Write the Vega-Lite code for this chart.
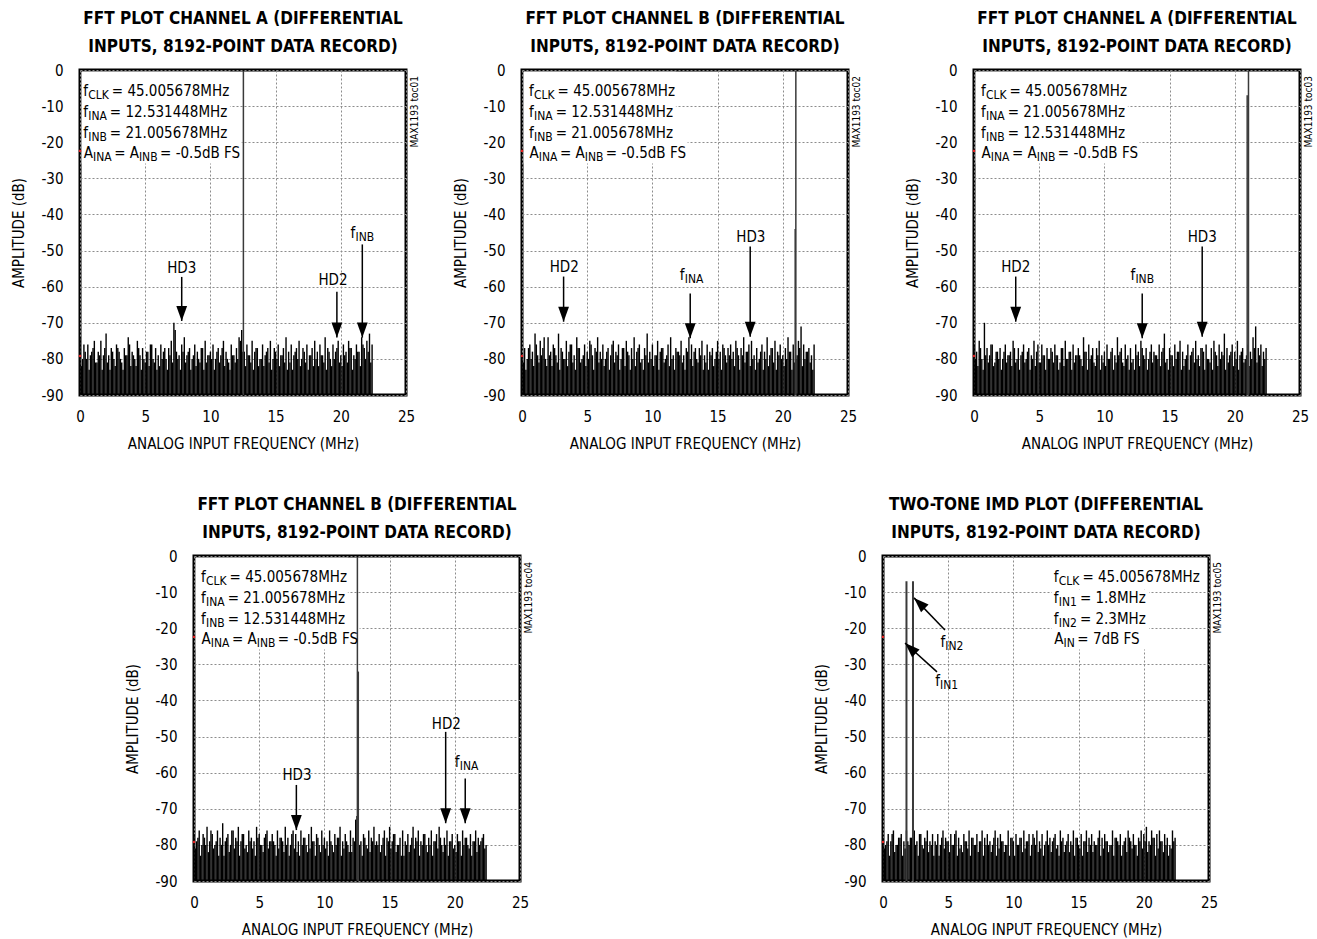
{
  "$schema": "https://vega.github.io/schema/vega-lite/v6.json",
  "background": "white",
  "padding": {"left": 10, "top": 8, "right": 0, "bottom": 0},
  "datasets": {
    "noise": [
      {"f":0,"a1":-74,"b1":-79,"a2":-76,"b2":-77,"t":-78},
      {"f":0.2,"a1":-80,"b1":-77,"a2":-78,"b2":-79,"t":-80},
      {"f":0.4,"a1":-78,"b1":-80,"a2":-75,"b2":-76,"t":-77},
      {"f":0.6,"a1":-76,"b1":-76,"a2":-80,"b2":-80,"t":-79},
      {"f":0.8,"a1":-79,"b1":-78,"a2":-70,"b2":-78,"t":-76},
      {"f":1,"a1":-77,"b1":-73,"a2":-77,"b2":-75,"t":-80},
      {"f":1.2,"a1":-81,"b1":-79,"a2":-79,"b2":-79,"t":-78},
      {"f":1.4,"a1":-78,"b1":-75,"a2":-76,"b2":-77,"t":-77},
      {"f":1.6,"a1":-75,"b1":-77,"a2":-81,"b2":-80,"t":-79},
      {"f":1.8,"a1":-79,"b1":-80,"a2":-78,"b2":-76,"t":-76},
      {"f":2,"a1":-73,"b1":-74,"a2":-77,"b2":-78,"t":-80},
      {"f":2.2,"a1":-79,"b1":-78,"a2":-80,"b2":-74,"t":-78},
      {"f":2.4,"a1":-77,"b1":-76,"a2":-76,"b2":-79,"t":-76},
      {"f":2.6,"a1":-80,"b1":-79,"a2":-79,"b2":-77,"t":-79},
      {"f":2.8,"a1":-76,"b1":-73,"a2":-78,"b2":-80,"t":-77},
      {"f":3,"a1":-78,"b1":-77,"a2":-75,"b2":-76,"t":-80},
      {"f":3.2,"a1":-81,"b1":-80,"a2":-81,"b2":-78,"t":-78},
      {"f":3.4,"a1":-77,"b1":-75,"a2":-77,"b2":-75,"t":-76},
      {"f":3.6,"a1":-79,"b1":-78,"a2":-79,"b2":-79,"t":-79},
      {"f":3.8,"a1":-76,"b1":-76,"a2":-76,"b2":-77,"t":-77},
      {"f":4,"a1":-78,"b1":-79,"a2":-80,"b2":-80,"t":-79},
      {"f":4.2,"a1":-80,"b1":-74,"a2":-77,"b2":-76,"t":-77},
      {"f":4.4,"a1":-75,"b1":-77,"a2":-79,"b2":-78,"t":-80},
      {"f":4.6,"a1":-79,"b1":-80,"a2":-75,"b2":-79,"t":-76},
      {"f":4.8,"a1":-77,"b1":-76,"a2":-78,"b2":-75,"t":-78},
      {"f":5,"a1":-81,"b1":-78,"a2":-81,"b2":-77,"t":-79},
      {"f":5.2,"a1":-78,"b1":-75,"a2":-76,"b2":-80,"t":-77},
      {"f":5.4,"a1":-76,"b1":-79,"a2":-79,"b2":-78,"t":-80},
      {"f":5.6,"a1":-80,"b1":-77,"a2":-77,"b2":-76,"t":-76},
      {"f":5.8,"a1":-77,"b1":-74,"a2":-80,"b2":-79,"t":-78},
      {"f":6,"a1":-79,"b1":-78,"a2":-78,"b2":-77,"t":-80},
      {"f":6.2,"a1":-76,"b1":-76,"a2":-76,"b2":-80,"t":-77},
      {"f":6.4,"a1":-78,"b1":-80,"a2":-79,"b2":-76,"t":-79},
      {"f":6.6,"a1":-80,"b1":-77,"a2":-81,"b2":-78,"t":-76},
      {"f":6.8,"a1":-77,"b1":-79,"a2":-77,"b2":-79,"t":-78},
      {"f":7,"a1":-75,"b1":-75,"a2":-75,"b2":-75,"t":-80},
      {"f":7.2,"a1":-70,"b1":-78,"a2":-80,"b2":-78,"t":-77},
      {"f":7.4,"a1":-78,"b1":-76,"a2":-78,"b2":-80,"t":-79},
      {"f":7.6,"a1":-79,"b1":-80,"a2":-76,"b2":-76,"t":-76},
      {"f":7.8,"a1":-76,"b1":-77,"a2":-79,"b2":-77,"t":-78},
      {"f":8,"a1":-74,"b1":-75,"a2":-77,"b2":-79,"t":-77},
      {"f":8.2,"a1":-79,"b1":-79,"a2":-80,"b2":-76,"t":-79},
      {"f":8.4,"a1":-77,"b1":-77,"a2":-74,"b2":-78,"t":-80},
      {"f":8.6,"a1":-80,"b1":-74,"a2":-78,"b2":-80,"t":-76},
      {"f":8.8,"a1":-76,"b1":-78,"a2":-76,"b2":-77,"t":-78},
      {"f":9,"a1":-78,"b1":-76,"a2":-79,"b2":-75,"t":-77},
      {"f":9.2,"a1":-81,"b1":-80,"a2":-81,"b2":-79,"t":-79},
      {"f":9.4,"a1":-77,"b1":-77,"a2":-77,"b2":-77,"t":-80},
      {"f":9.6,"a1":-75,"b1":-73,"a2":-75,"b2":-80,"t":-76},
      {"f":9.8,"a1":-79,"b1":-78,"a2":-79,"b2":-76,"t":-78},
      {"f":10,"a1":-78,"b1":-76,"a2":-78,"b2":-78,"t":-79},
      {"f":10.2,"a1":-76,"b1":-79,"a2":-76,"b2":-79,"t":-77},
      {"f":10.4,"a1":-80,"b1":-75,"a2":-80,"b2":-76,"t":-80},
      {"f":10.6,"a1":-77,"b1":-78,"a2":-77,"b2":-80,"t":-78},
      {"f":10.8,"a1":-79,"b1":-77,"a2":-79,"b2":-77,"t":-76},
      {"f":11,"a1":-75,"b1":-80,"a2":-74,"b2":-78,"t":-79},
      {"f":11.2,"a1":-78,"b1":-76,"a2":-78,"b2":-75,"t":-77},
      {"f":11.4,"a1":-81,"b1":-74,"a2":-81,"b2":-79,"t":-80},
      {"f":11.6,"a1":-76,"b1":-79,"a2":-76,"b2":-77,"t":-78},
      {"f":11.8,"a1":-79,"b1":-77,"a2":-79,"b2":-80,"t":-76},
      {"f":12,"a1":-77,"b1":-78,"a2":-77,"b2":-76,"t":-79},
      {"f":12.2,"a1":-74,"b1":-75,"a2":-80,"b2":-78,"t":-77},
      {"f":12.4,"a1":-72,"b1":-79,"a2":-76,"b2":-73,"t":-80},
      {"f":12.6,"a1":-78,"b1":-77,"a2":-78,"b2":-71,"t":-76},
      {"f":12.8,"a1":-76,"b1":-74,"a2":-75,"b2":-79,"t":-78},
      {"f":13,"a1":-79,"b1":-76,"a2":-79,"b2":-77,"t":-79},
      {"f":13.2,"a1":-75,"b1":-78,"a2":-77,"b2":-80,"t":-77},
      {"f":13.4,"a1":-78,"b1":-80,"a2":-80,"b2":-76,"t":-80},
      {"f":13.6,"a1":-77,"b1":-77,"a2":-76,"b2":-78,"t":-76},
      {"f":13.8,"a1":-80,"b1":-75,"a2":-78,"b2":-75,"t":-78},
      {"f":14,"a1":-76,"b1":-79,"a2":-79,"b2":-79,"t":-80},
      {"f":14.2,"a1":-79,"b1":-76,"a2":-76,"b2":-77,"t":-77},
      {"f":14.4,"a1":-77,"b1":-78,"a2":-78,"b2":-80,"t":-79},
      {"f":14.6,"a1":-75,"b1":-77,"a2":-73,"b2":-76,"t":-76},
      {"f":14.8,"a1":-80,"b1":-80,"a2":-80,"b2":-78,"t":-78},
      {"f":15,"a1":-78,"b1":-75,"a2":-77,"b2":-75,"t":-80},
      {"f":15.2,"a1":-76,"b1":-78,"a2":-79,"b2":-79,"t":-77},
      {"f":15.4,"a1":-79,"b1":-76,"a2":-76,"b2":-77,"t":-79},
      {"f":15.6,"a1":-77,"b1":-79,"a2":-78,"b2":-80,"t":-76},
      {"f":15.8,"a1":-74,"b1":-77,"a2":-75,"b2":-78,"t":-78},
      {"f":16,"a1":-78,"b1":-76,"a2":-78,"b2":-76,"t":-77},
      {"f":16.2,"a1":-76,"b1":-78,"a2":-80,"b2":-79,"t":-79},
      {"f":16.4,"a1":-79,"b1":-75,"a2":-76,"b2":-77,"t":-80},
      {"f":16.6,"a1":-77,"b1":-79,"a2":-79,"b2":-80,"t":-76},
      {"f":16.8,"a1":-75,"b1":-77,"a2":-77,"b2":-75,"t":-78},
      {"f":17,"a1":-80,"b1":-74,"a2":-75,"b2":-78,"t":-77},
      {"f":17.2,"a1":-78,"b1":-78,"a2":-79,"b2":-76,"t":-79},
      {"f":17.4,"a1":-76,"b1":-76,"a2":-77,"b2":-79,"t":-80},
      {"f":17.6,"a1":-79,"b1":-75,"a2":-78,"b2":-77,"t":-76},
      {"f":17.8,"a1":-77,"b1":-79,"a2":-76,"b2":-80,"t":-78},
      {"f":18,"a1":-75,"b1":-77,"a2":-80,"b2":-78,"t":-79},
      {"f":18.2,"a1":-78,"b1":-80,"a2":-77,"b2":-76,"t":-77},
      {"f":18.4,"a1":-76,"b1":-76,"a2":-75,"b2":-79,"t":-80},
      {"f":18.6,"a1":-79,"b1":-78,"a2":-79,"b2":-77,"t":-78},
      {"f":18.8,"a1":-74,"b1":-74,"a2":-76,"b2":-75,"t":-76},
      {"f":19,"a1":-77,"b1":-79,"a2":-78,"b2":-80,"t":-79},
      {"f":19.2,"a1":-80,"b1":-77,"a2":-73,"b2":-78,"t":-77},
      {"f":19.4,"a1":-76,"b1":-75,"a2":-77,"b2":-76,"t":-80},
      {"f":19.6,"a1":-78,"b1":-78,"a2":-79,"b2":-79,"t":-78},
      {"f":19.8,"a1":-75,"b1":-76,"a2":-76,"b2":-77,"t":-76},
      {"f":20,"a1":-79,"b1":-79,"a2":-78,"b2":-80,"t":-77},
      {"f":20.2,"a1":-76,"b1":-77,"a2":-75,"b2":-77,"t":-75},
      {"f":20.4,"a1":-78,"b1":-74,"a2":-79,"b2":-79,"t":-79},
      {"f":20.6,"a1":-75,"b1":-78,"a2":-77,"b2":-76,"t":-76},
      {"f":20.8,"a1":-77,"b1":-76,"a2":-80,"b2":-78,"t":-78},
      {"f":21,"a1":-79,"b1":-80,"a2":-76,"b2":-80,"t":-77},
      {"f":21.2,"a1":-76,"b1":-75,"a2":-78,"b2":-77,"t":-76},
      {"f":21.4,"a1":-78,"b1":-71,"a2":-74,"b2":-79,"t":-79},
      {"f":21.6,"a1":-74,"b1":-76,"a2":-71,"b2":-76,"t":-77},
      {"f":21.8,"a1":-77,"b1":-78,"a2":-77,"b2":-78,"t":-78},
      {"f":22,"a1":-75,"b1":-77,"a2":-76,"b2":-79,"t":-80},
      {"f":22.2,"a1":-73,"b1":-79,"a2":-78,"b2":-77,"t":-76},
      {"f":22.4,"a1":-76,"b1":-76,"a2":-77,"b2":-80,"t":-78},
      {"f":0.1,"a1":-82,"b1":-81,"a2":-80,"b2":-81,"t":-81},
      {"f":0.3,"a1":-76,"b1":-83,"a2":-82,"b2":-78,"t":-79},
      {"f":0.5,"a1":-80,"b1":-77,"a2":-77,"b2":-83,"t":-83},
      {"f":0.7,"a1":-83,"b1":-80,"a2":-83,"b2":-77,"t":-77},
      {"f":0.9,"a1":-78,"b1":-82,"a2":-79,"b2":-80,"t":-82},
      {"f":1.1,"a1":-75,"b1":-76,"a2":-81,"b2":-82,"t":-80},
      {"f":1.3,"a1":-81,"b1":-81,"a2":-76,"b2":-76,"t":-78},
      {"f":1.5,"a1":-79,"b1":-79,"a2":-82,"b2":-81,"t":-83},
      {"f":1.7,"a1":-83,"b1":-74,"a2":-78,"b2":-79,"t":-81},
      {"f":1.9,"a1":-77,"b1":-82,"a2":-80,"b2":-83,"t":-79},
      {"f":2.1,"a1":-81,"b1":-79,"a2":-83,"b2":-80,"t":-78},
      {"f":2.3,"a1":-83,"b1":-82,"a2":-78,"b2":-83,"t":-82},
      {"f":2.5,"a1":-78,"b1":-77,"a2":-81,"b2":-78,"t":-80},
      {"f":2.7,"a1":-82,"b1":-81,"a2":-79,"b2":-82,"t":-83},
      {"f":2.9,"a1":-77,"b1":-83,"a2":-82,"b2":-76,"t":-77},
      {"f":3.1,"a1":-80,"b1":-78,"a2":-77,"b2":-81,"t":-81},
      {"f":3.3,"a1":-83,"b1":-80,"a2":-80,"b2":-79,"t":-79},
      {"f":3.5,"a1":-79,"b1":-82,"a2":-83,"b2":-83,"t":-82},
      {"f":3.7,"a1":-74,"b1":-76,"a2":-78,"b2":-77,"t":-80},
      {"f":3.9,"a1":-82,"b1":-81,"a2":-81,"b2":-81,"t":-83},
      {"f":4.1,"a1":-79,"b1":-83,"a2":-78,"b2":-82,"t":-80},
      {"f":4.3,"a1":-82,"b1":-77,"a2":-83,"b2":-79,"t":-83},
      {"f":4.5,"a1":-77,"b1":-81,"a2":-80,"b2":-81,"t":-78},
      {"f":4.7,"a1":-83,"b1":-79,"a2":-82,"b2":-83,"t":-81},
      {"f":4.9,"a1":-80,"b1":-82,"a2":-76,"b2":-78,"t":-79},
      {"f":5.1,"a1":-78,"b1":-80,"a2":-81,"b2":-80,"t":-82},
      {"f":5.3,"a1":-82,"b1":-76,"a2":-79,"b2":-82,"t":-80},
      {"f":5.5,"a1":-76,"b1":-83,"a2":-83,"b2":-77,"t":-77},
      {"f":5.7,"a1":-81,"b1":-78,"a2":-80,"b2":-81,"t":-83},
      {"f":5.9,"a1":-83,"b1":-81,"a2":-77,"b2":-79,"t":-81},
      {"f":6.1,"a1":-82,"b1":-80,"a2":-81,"b2":-79,"t":-82},
      {"f":6.3,"a1":-80,"b1":-82,"a2":-79,"b2":-83,"t":-79},
      {"f":6.5,"a1":-77,"b1":-78,"a2":-83,"b2":-81,"t":-81},
      {"f":6.7,"a1":-83,"b1":-83,"a2":-77,"b2":-78,"t":-83},
      {"f":6.9,"a1":-79,"b1":-76,"a2":-82,"b2":-82,"t":-78},
      {"f":7.1,"a1":-81,"b1":-81,"a2":-80,"b2":-80,"t":-80},
      {"f":7.3,"a1":-72,"b1":-79,"a2":-78,"b2":-83,"t":-82},
      {"f":7.5,"a1":-80,"b1":-83,"a2":-83,"b2":-77,"t":-79},
      {"f":7.7,"a1":-83,"b1":-77,"a2":-81,"b2":-81,"t":-83},
      {"f":7.9,"a1":-78,"b1":-82,"a2":-79,"b2":-82,"t":-80},
      {"f":8.1,"a1":-81,"b1":-78,"a2":-79,"b2":-83,"t":-80},
      {"f":8.3,"a1":-78,"b1":-83,"a2":-82,"b2":-80,"t":-82},
      {"f":8.5,"a1":-83,"b1":-80,"a2":-78,"b2":-78,"t":-78},
      {"f":8.7,"a1":-79,"b1":-82,"a2":-83,"b2":-82,"t":-83},
      {"f":8.9,"a1":-82,"b1":-77,"a2":-80,"b2":-81,"t":-81},
      {"f":9.1,"a1":-80,"b1":-81,"a2":-77,"b2":-79,"t":-79},
      {"f":9.3,"a1":-77,"b1":-83,"a2":-82,"b2":-83,"t":-82},
      {"f":9.5,"a1":-83,"b1":-79,"a2":-79,"b2":-78,"t":-80},
      {"f":9.7,"a1":-81,"b1":-81,"a2":-83,"b2":-82,"t":-83},
      {"f":9.9,"a1":-79,"b1":-80,"a2":-81,"b2":-80,"t":-78},
      {"f":10.1,"a1":-80,"b1":-82,"a2":-82,"b2":-81,"t":-83},
      {"f":10.3,"a1":-83,"b1":-79,"a2":-80,"b2":-83,"t":-80},
      {"f":10.5,"a1":-78,"b1":-83,"a2":-78,"b2":-79,"t":-78},
      {"f":10.7,"a1":-81,"b1":-77,"a2":-83,"b2":-82,"t":-82},
      {"f":10.9,"a1":-77,"b1":-81,"a2":-81,"b2":-80,"t":-81},
      {"f":11.1,"a1":-82,"b1":-79,"a2":-79,"b2":-78,"t":-79},
      {"f":11.3,"a1":-80,"b1":-82,"a2":-77,"b2":-83,"t":-83},
      {"f":11.5,"a1":-83,"b1":-80,"a2":-82,"b2":-81,"t":-77},
      {"f":11.7,"a1":-79,"b1":-83,"a2":-80,"b2":-79,"t":-80},
      {"f":11.9,"a1":-81,"b1":-78,"a2":-83,"b2":-82,"t":-82},
      {"f":12.1,"a1":-80,"b1":-79,"a2":-81,"b2":-82,"t":-81},
      {"f":12.3,"a1":-75,"b1":-81,"a2":-83,"b2":-79,"t":-83},
      {"f":12.5,"a1":-78,"b1":-83,"a2":-79,"b2":-72,"t":-79},
      {"f":12.7,"a1":-82,"b1":-78,"a2":-82,"b2":-80,"t":-80},
      {"f":12.9,"a1":-79,"b1":-80,"a2":-77,"b2":-83,"t":-82},
      {"f":13.1,"a1":-81,"b1":-82,"a2":-80,"b2":-78,"t":-78},
      {"f":13.3,"a1":-83,"b1":-77,"a2":-83,"b2":-81,"t":-81},
      {"f":13.5,"a1":-77,"b1":-81,"a2":-78,"b2":-82,"t":-83},
      {"f":13.7,"a1":-82,"b1":-79,"a2":-81,"b2":-79,"t":-79},
      {"f":13.9,"a1":-80,"b1":-83,"a2":-79,"b2":-80,"t":-82},
      {"f":14.1,"a1":-82,"b1":-81,"a2":-80,"b2":-80,"t":-79},
      {"f":14.3,"a1":-78,"b1":-83,"a2":-82,"b2":-82,"t":-82},
      {"f":14.5,"a1":-81,"b1":-79,"a2":-77,"b2":-78,"t":-80},
      {"f":14.7,"a1":-83,"b1":-82,"a2":-81,"b2":-83,"t":-83},
      {"f":14.9,"a1":-77,"b1":-78,"a2":-83,"b2":-79,"t":-78},
      {"f":15.1,"a1":-80,"b1":-80,"a2":-79,"b2":-81,"t":-81},
      {"f":15.3,"a1":-82,"b1":-83,"a2":-82,"b2":-77,"t":-83},
      {"f":15.5,"a1":-79,"b1":-77,"a2":-80,"b2":-82,"t":-79},
      {"f":15.7,"a1":-81,"b1":-81,"a2":-78,"b2":-80,"t":-82},
      {"f":15.9,"a1":-83,"b1":-79,"a2":-83,"b2":-83,"t":-80},
      {"f":16.1,"a1":-81,"b1":-80,"a2":-82,"b2":-83,"t":-82},
      {"f":16.3,"a1":-83,"b1":-82,"a2":-79,"b2":-80,"t":-80},
      {"f":16.5,"a1":-78,"b1":-77,"a2":-83,"b2":-82,"t":-78},
      {"f":16.7,"a1":-80,"b1":-83,"a2":-78,"b2":-78,"t":-83},
      {"f":16.9,"a1":-82,"b1":-79,"a2":-81,"b2":-81,"t":-81},
      {"f":17.1,"a1":-77,"b1":-81,"a2":-80,"b2":-79,"t":-79},
      {"f":17.3,"a1":-81,"b1":-78,"a2":-82,"b2":-83,"t":-82},
      {"f":17.5,"a1":-83,"b1":-82,"a2":-77,"b2":-80,"t":-80},
      {"f":17.7,"a1":-79,"b1":-80,"a2":-83,"b2":-77,"t":-83},
      {"f":17.9,"a1":-82,"b1":-83,"a2":-80,"b2":-82,"t":-78},
      {"f":18.1,"a1":-80,"b1":-81,"a2":-81,"b2":-80,"t":-80},
      {"f":18.3,"a1":-82,"b1":-78,"a2":-83,"b2":-83,"t":-83},
      {"f":18.5,"a1":-79,"b1":-83,"a2":-78,"b2":-79,"t":-79},
      {"f":18.7,"a1":-81,"b1":-80,"a2":-82,"b2":-81,"t":-82},
      {"f":18.9,"a1":-83,"b1":-82,"a2":-80,"b2":-78,"t":-78},
      {"f":19.1,"a1":-78,"b1":-77,"a2":-79,"b2":-82,"t":-81},
      {"f":19.3,"a1":-82,"b1":-81,"a2":-83,"b2":-80,"t":-80},
      {"f":19.5,"a1":-80,"b1":-83,"a2":-81,"b2":-83,"t":-83},
      {"f":19.7,"a1":-77,"b1":-79,"a2":-78,"b2":-79,"t":-79},
      {"f":19.9,"a1":-81,"b1":-80,"a2":-82,"b2":-81,"t":-81},
      {"f":20.1,"a1":-82,"b1":-82,"a2":-80,"b2":-82,"t":-79},
      {"f":20.3,"a1":-79,"b1":-80,"a2":-83,"b2":-79,"t":-82},
      {"f":20.5,"a1":-81,"b1":-78,"a2":-78,"b2":-83,"t":-80},
      {"f":20.7,"a1":-77,"b1":-83,"a2":-81,"b2":-80,"t":-78},
      {"f":20.9,"a1":-83,"b1":-81,"a2":-79,"b2":-78,"t":-83},
      {"f":21.1,"a1":-80,"b1":-79,"a2":-82,"b2":-81,"t":-81},
      {"f":21.3,"a1":-78,"b1":-77,"a2":-80,"b2":-83,"t":-79},
      {"f":21.5,"a1":-82,"b1":-82,"a2":-77,"b2":-79,"t":-82},
      {"f":21.7,"a1":-76,"b1":-80,"a2":-81,"b2":-82,"t":-80},
      {"f":21.9,"a1":-80,"b1":-78,"a2":-79,"b2":-80,"t":-83},
      {"f":22.1,"a1":-78,"b1":-81,"a2":-82,"b2":-78,"t":-81},
      {"f":22.3,"a1":-81,"b1":-83,"a2":-80,"b2":-81,"t":-79}
    ],
    "spikes": [
      {"p":"A1","f":12.53,"v":-0.3},
      {"p":"B1","f":21.0,"v":-0.3},
      {"p":"B1","f":20.95,"v":-44},
      {"p":"A2","f":21.05,"v":-0.3},
      {"p":"A2","f":20.95,"v":-7},
      {"p":"B2","f":12.53,"v":-0.3},
      {"p":"B2","f":12.6,"v":-32},
      {"p":"T","f":1.8,"v":-7},
      {"p":"T","f":2.3,"v":-7}
    ],
    "boxes": [
      {"p":"A1","x":0.13,"x2":11.5,"y":-0.5,"y2":-15.5},
      {"p":"A1","x":0.13,"x2":12.4,"y":-15.5,"y2":-25.9},
      {"p":"B1","x":0.13,"x2":11.8,"y":-0.5,"y2":-15.5},
      {"p":"B1","x":0.13,"x2":12.7,"y":-15.5,"y2":-25.9},
      {"p":"A2","x":0.13,"x2":11.8,"y":-0.5,"y2":-15.5},
      {"p":"A2","x":0.13,"x2":12.7,"y":-15.5,"y2":-25.9},
      {"p":"B2","x":0.13,"x2":11.8,"y":-0.5,"y2":-15.5},
      {"p":"B2","x":0.13,"x2":12.7,"y":-15.5,"y2":-25.9},
      {"p":"T","x":12.95,"x2":24.75,"y":-0.5,"y2":-9.3},
      {"p":"T","x":12.95,"x2":20.4,"y":-9.3,"y2":-25.9}
    ],
    "texts": [
      {"p":"A1","x":0.25,"y":-7.3,"t":"f"},
      {"p":"A1","x":2.44,"y":-7.3,"t":"= 45.005678MHz"},
      {"p":"A1","x":0.25,"y":-13,"t":"f"},
      {"p":"A1","x":2.29,"y":-13,"t":"= 12.531448MHz"},
      {"p":"A1","x":0.25,"y":-18.7,"t":"f"},
      {"p":"A1","x":2.29,"y":-18.7,"t":"= 21.005678MHz"},
      {"p":"A1","x":0.29,"y":-24.4,"t":"A"},
      {"p":"A1","x":2.62,"y":-24.4,"t":"= A"},
      {"p":"A1","x":6.14,"y":-24.4,"t":"= -0.5dB FS"},
      {"p":"A1","x":20.75,"y":-46.6,"t":"f"},
      {"p":"B1","x":0.54,"y":-7.3,"t":"f"},
      {"p":"B1","x":2.73,"y":-7.3,"t":"= 45.005678MHz"},
      {"p":"B1","x":0.54,"y":-13,"t":"f"},
      {"p":"B1","x":2.58,"y":-13,"t":"= 12.531448MHz"},
      {"p":"B1","x":0.54,"y":-18.7,"t":"f"},
      {"p":"B1","x":2.58,"y":-18.7,"t":"= 21.005678MHz"},
      {"p":"B1","x":0.58,"y":-24.4,"t":"A"},
      {"p":"B1","x":2.91,"y":-24.4,"t":"= A"},
      {"p":"B1","x":6.43,"y":-24.4,"t":"= -0.5dB FS"},
      {"p":"B1","x":12.1,"y":-58.2,"t":"f"},
      {"p":"A2","x":0.54,"y":-7.3,"t":"f"},
      {"p":"A2","x":2.73,"y":-7.3,"t":"= 45.005678MHz"},
      {"p":"A2","x":0.54,"y":-13,"t":"f"},
      {"p":"A2","x":2.58,"y":-13,"t":"= 21.005678MHz"},
      {"p":"A2","x":0.54,"y":-18.7,"t":"f"},
      {"p":"A2","x":2.58,"y":-18.7,"t":"= 12.531448MHz"},
      {"p":"A2","x":0.58,"y":-24.4,"t":"A"},
      {"p":"A2","x":2.91,"y":-24.4,"t":"= A"},
      {"p":"A2","x":6.43,"y":-24.4,"t":"= -0.5dB FS"},
      {"p":"A2","x":12.0,"y":-58.2,"t":"f"},
      {"p":"B2","x":0.54,"y":-7.3,"t":"f"},
      {"p":"B2","x":2.73,"y":-7.3,"t":"= 45.005678MHz"},
      {"p":"B2","x":0.54,"y":-13,"t":"f"},
      {"p":"B2","x":2.58,"y":-13,"t":"= 21.005678MHz"},
      {"p":"B2","x":0.54,"y":-18.7,"t":"f"},
      {"p":"B2","x":2.58,"y":-18.7,"t":"= 12.531448MHz"},
      {"p":"B2","x":0.58,"y":-24.4,"t":"A"},
      {"p":"B2","x":2.91,"y":-24.4,"t":"= A"},
      {"p":"B2","x":6.43,"y":-24.4,"t":"= -0.5dB FS"},
      {"p":"B2","x":20.0,"y":-58.5,"t":"f"},
      {"p":"T","x":13.1,"y":-7.3,"t":"f"},
      {"p":"T","x":15.29,"y":-7.3,"t":"= 45.005678MHz"},
      {"p":"T","x":13.1,"y":-13,"t":"f"},
      {"p":"T","x":15.1,"y":-13,"t":"= 1.8MHz"},
      {"p":"T","x":13.1,"y":-18.7,"t":"f"},
      {"p":"T","x":15.1,"y":-18.7,"t":"= 2.3MHz"},
      {"p":"T","x":13.13,"y":-24.4,"t":"A"},
      {"p":"T","x":14.9,"y":-24.4,"t":"= 7dB FS"},
      {"p":"T","x":4.4,"y":-25.1,"t":"f"},
      {"p":"T","x":4.0,"y":-36,"t":"f"}
    ],
    "subs": [
      {"p":"A1","x":0.63,"y":-7.3,"t":"CLK"},
      {"p":"A1","x":0.63,"y":-13,"t":"INA"},
      {"p":"A1","x":0.63,"y":-18.7,"t":"INB"},
      {"p":"A1","x":1.0,"y":-24.4,"t":"INA"},
      {"p":"A1","x":4.52,"y":-24.4,"t":"INB"},
      {"p":"A1","x":21.13,"y":-46.6,"t":"INB"},
      {"p":"B1","x":0.92,"y":-7.3,"t":"CLK"},
      {"p":"B1","x":0.92,"y":-13,"t":"INA"},
      {"p":"B1","x":0.92,"y":-18.7,"t":"INB"},
      {"p":"B1","x":1.29,"y":-24.4,"t":"INA"},
      {"p":"B1","x":4.81,"y":-24.4,"t":"INB"},
      {"p":"B1","x":12.48,"y":-58.2,"t":"INA"},
      {"p":"A2","x":0.92,"y":-7.3,"t":"CLK"},
      {"p":"A2","x":0.92,"y":-13,"t":"INA"},
      {"p":"A2","x":0.92,"y":-18.7,"t":"INB"},
      {"p":"A2","x":1.29,"y":-24.4,"t":"INA"},
      {"p":"A2","x":4.81,"y":-24.4,"t":"INB"},
      {"p":"A2","x":12.38,"y":-58.2,"t":"INB"},
      {"p":"B2","x":0.92,"y":-7.3,"t":"CLK"},
      {"p":"B2","x":0.92,"y":-13,"t":"INA"},
      {"p":"B2","x":0.92,"y":-18.7,"t":"INB"},
      {"p":"B2","x":1.29,"y":-24.4,"t":"INA"},
      {"p":"B2","x":4.81,"y":-24.4,"t":"INB"},
      {"p":"B2","x":20.38,"y":-58.5,"t":"INA"},
      {"p":"T","x":13.48,"y":-7.3,"t":"CLK"},
      {"p":"T","x":13.48,"y":-13,"t":"IN1"},
      {"p":"T","x":13.48,"y":-18.7,"t":"IN2"},
      {"p":"T","x":13.84,"y":-24.4,"t":"IN"},
      {"p":"T","x":4.78,"y":-25.1,"t":"IN2"},
      {"p":"T","x":4.38,"y":-36,"t":"IN1"}
    ],
    "labels": [
      {"p":"A1","x":7.8,"y":-56.1,"t":"HD3"},
      {"p":"A1","x":19.4,"y":-59.4,"t":"HD2"},
      {"p":"B1","x":3.24,"y":-55.9,"t":"HD2"},
      {"p":"B1","x":17.55,"y":-47.6,"t":"HD3"},
      {"p":"A2","x":3.2,"y":-55.9,"t":"HD2"},
      {"p":"A2","x":17.5,"y":-47.6,"t":"HD3"},
      {"p":"B2","x":7.9,"y":-61.9,"t":"HD3"},
      {"p":"B2","x":19.35,"y":-48,"t":"HD2"}
    ],
    "arrows": [
      {"p":"A1","x":7.8,"y1":-57.3,"y2":-69.5},
      {"p":"A1","x":19.7,"y1":-61.4,"y2":-74.1},
      {"p":"A1","x":21.65,"y1":-48.3,"y2":-74.1},
      {"p":"B1","x":3.19,"y1":-57.2,"y2":-69.7},
      {"p":"B1","x":12.9,"y1":-61.9,"y2":-74.3},
      {"p":"B1","x":17.5,"y1":-48.9,"y2":-73.9},
      {"p":"A2","x":3.2,"y1":-57.2,"y2":-69.7},
      {"p":"A2","x":12.9,"y1":-61.9,"y2":-74.3},
      {"p":"A2","x":17.5,"y1":-48.9,"y2":-73.9},
      {"p":"B2","x":7.85,"y1":-63.4,"y2":-75.9},
      {"p":"B2","x":19.3,"y1":-48.7,"y2":-74},
      {"p":"B2","x":20.8,"y1":-61.6,"y2":-74}
    ],
    "darrows": [
      {"p":"T","x1":4.75,"y1":-20.5,"x2":2.38,"y2":-11.6},
      {"p":"T","x1":4.14,"y1":-32.1,"x2":1.69,"y2":-24.1}
    ],
    "marks": [
      {"y":-22.4},
      {"y":-79.2}
    ]
  },
  "vconcat": [
    {
      "hconcat": [
        {
          "width": 326, "height": 325,
          "title": {"text": ["FFT PLOT CHANNEL A (DIFFERENTIAL", "INPUTS, 8192-POINT DATA RECORD)"]},
          "layer": [
            {"data": {"name": "noise"}, "mark": {"type": "rule", "color": "black", "strokeWidth": 1.4},
             "encoding": {
               "x": {"field": "f", "type": "quantitative", "scale": {"domain": [0, 25], "nice": false}, "axis": {"values": [0, 5, 10, 15, 20, 25]}, "title": "ANALOG INPUT FREQUENCY (MHz)"},
               "y": {"field": "a1", "type": "quantitative", "scale": {"domain": [-90, 0], "nice": false}, "axis": {"values": [-90, -80, -70, -60, -50, -40, -30, -20, -10, 0], "tickCount": 12, "labelOverlap": false, "labelExpr": "datum.value == 0 ? '0' : '-' + abs(datum.value)"}, "title": "AMPLITUDE (dB)"},
               "y2": {"datum": -90}}},
            {"data": {"name": "boxes"}, "transform": [{"filter": "datum.p == 'A1'"}], "mark": {"type": "rect", "color": "white"},
             "encoding": {"x": {"field": "x", "type": "quantitative"}, "x2": {"field": "x2"}, "y": {"field": "y", "type": "quantitative"}, "y2": {"field": "y2"}}},
            {"data": {"name": "spikes"}, "transform": [{"filter": "datum.p == 'A1'"}], "mark": {"type": "rule", "color": "#3a3a3a", "strokeWidth": 1.5},
             "encoding": {"x": {"field": "f", "type": "quantitative"}, "y": {"field": "v", "type": "quantitative"}, "y2": {"datum": -90}}},
            {"data": {"name": "texts"}, "transform": [{"filter": "datum.p == 'A1'"}], "mark": {"type": "text", "align": "left", "baseline": "alphabetic", "fontSize": 15},
             "encoding": {"x": {"field": "x", "type": "quantitative"}, "y": {"field": "y", "type": "quantitative"}, "text": {"field": "t"}}},
            {"data": {"name": "subs"}, "transform": [{"filter": "datum.p == 'A1'"}], "mark": {"type": "text", "align": "left", "baseline": "alphabetic", "fontSize": 12, "dy": 3},
             "encoding": {"x": {"field": "x", "type": "quantitative"}, "y": {"field": "y", "type": "quantitative"}, "text": {"field": "t"}}},
            {"data": {"name": "labels"}, "transform": [{"filter": "datum.p == 'A1'"}], "mark": {"type": "text", "align": "center", "baseline": "alphabetic", "fontSize": 15},
             "encoding": {"x": {"field": "x", "type": "quantitative"}, "y": {"field": "y", "type": "quantitative"}, "text": {"field": "t"}}},
            {"data": {"name": "arrows"}, "transform": [{"filter": "datum.p == 'A1'"}], "mark": {"type": "rule", "color": "black", "strokeWidth": 1.5},
             "encoding": {"x": {"field": "x", "type": "quantitative"}, "y": {"field": "y1", "type": "quantitative"}, "y2": {"field": "y2"}}},
            {"data": {"name": "arrows"}, "transform": [{"filter": "datum.p == 'A1'"}], "mark": {"type": "point", "shape": "M0,0L-0.36,-1L0.36,-1Z", "size": 900, "filled": true, "color": "black", "opacity": 1},
             "encoding": {"x": {"field": "x", "type": "quantitative"}, "y": {"field": "y2", "type": "quantitative"}}},
            {"data": {"name": "marks"}, "mark": {"type": "point", "shape": "square", "size": 5, "filled": true, "color": "#e02020", "opacity": 1},
             "encoding": {"x": {"datum": 0}, "y": {"field": "y", "type": "quantitative"}}},
            {"data": {"values": [{}]}, "mark": {"type": "text", "text": "MAX1193 toc01", "angle": 270, "align": "right", "baseline": "middle", "fontSize": 10, "dy": 9},
             "encoding": {"x": {"datum": 25}, "y": {"datum": -1.7}}}
          ]
        },
        {
          "hconcat": [
            {
              "width": 326, "height": 325,
              "title": {"text": ["FFT PLOT CHANNEL B (DIFFERENTIAL", "INPUTS, 8192-POINT DATA RECORD)"]},
              "layer": [
                {"data": {"name": "noise"}, "mark": {"type": "rule", "color": "black", "strokeWidth": 1.4},
                 "encoding": {
                   "x": {"field": "f", "type": "quantitative", "scale": {"domain": [0, 25], "nice": false}, "axis": {"values": [0, 5, 10, 15, 20, 25]}, "title": "ANALOG INPUT FREQUENCY (MHz)"},
                   "y": {"field": "b1", "type": "quantitative", "scale": {"domain": [-90, 0], "nice": false}, "axis": {"values": [-90, -80, -70, -60, -50, -40, -30, -20, -10, 0], "tickCount": 12, "labelOverlap": false, "labelExpr": "datum.value == 0 ? '0' : '-' + abs(datum.value)"}, "title": "AMPLITUDE (dB)"},
                   "y2": {"datum": -90}}},
                {"data": {"name": "boxes"}, "transform": [{"filter": "datum.p == 'B1'"}], "mark": {"type": "rect", "color": "white"},
                 "encoding": {"x": {"field": "x", "type": "quantitative"}, "x2": {"field": "x2"}, "y": {"field": "y", "type": "quantitative"}, "y2": {"field": "y2"}}},
                {"data": {"name": "spikes"}, "transform": [{"filter": "datum.p == 'B1'"}], "mark": {"type": "rule", "color": "#3a3a3a", "strokeWidth": 1.5},
                 "encoding": {"x": {"field": "f", "type": "quantitative"}, "y": {"field": "v", "type": "quantitative"}, "y2": {"datum": -90}}},
                {"data": {"name": "texts"}, "transform": [{"filter": "datum.p == 'B1'"}], "mark": {"type": "text", "align": "left", "baseline": "alphabetic", "fontSize": 15},
                 "encoding": {"x": {"field": "x", "type": "quantitative"}, "y": {"field": "y", "type": "quantitative"}, "text": {"field": "t"}}},
                {"data": {"name": "subs"}, "transform": [{"filter": "datum.p == 'B1'"}], "mark": {"type": "text", "align": "left", "baseline": "alphabetic", "fontSize": 12, "dy": 3},
                 "encoding": {"x": {"field": "x", "type": "quantitative"}, "y": {"field": "y", "type": "quantitative"}, "text": {"field": "t"}}},
                {"data": {"name": "labels"}, "transform": [{"filter": "datum.p == 'B1'"}], "mark": {"type": "text", "align": "center", "baseline": "alphabetic", "fontSize": 15},
                 "encoding": {"x": {"field": "x", "type": "quantitative"}, "y": {"field": "y", "type": "quantitative"}, "text": {"field": "t"}}},
                {"data": {"name": "arrows"}, "transform": [{"filter": "datum.p == 'B1'"}], "mark": {"type": "rule", "color": "black", "strokeWidth": 1.5},
                 "encoding": {"x": {"field": "x", "type": "quantitative"}, "y": {"field": "y1", "type": "quantitative"}, "y2": {"field": "y2"}}},
                {"data": {"name": "arrows"}, "transform": [{"filter": "datum.p == 'B1'"}], "mark": {"type": "point", "shape": "M0,0L-0.36,-1L0.36,-1Z", "size": 900, "filled": true, "color": "black", "opacity": 1},
                 "encoding": {"x": {"field": "x", "type": "quantitative"}, "y": {"field": "y2", "type": "quantitative"}}},
                {"data": {"name": "marks"}, "mark": {"type": "point", "shape": "square", "size": 5, "filled": true, "color": "#e02020", "opacity": 1},
                 "encoding": {"x": {"datum": 0}, "y": {"field": "y", "type": "quantitative"}}},
                {"data": {"values": [{}]}, "mark": {"type": "text", "text": "MAX1193 toc02", "angle": 270, "align": "right", "baseline": "middle", "fontSize": 10, "dy": 9},
                 "encoding": {"x": {"datum": 25}, "y": {"datum": -1.7}}}
              ]
            },
            {
              "width": 326, "height": 325,
              "title": {"text": ["FFT PLOT CHANNEL A (DIFFERENTIAL", "INPUTS, 8192-POINT DATA RECORD)"]},
              "layer": [
                {"data": {"name": "noise"}, "mark": {"type": "rule", "color": "black", "strokeWidth": 1.4},
                 "encoding": {
                   "x": {"field": "f", "type": "quantitative", "scale": {"domain": [0, 25], "nice": false}, "axis": {"values": [0, 5, 10, 15, 20, 25]}, "title": "ANALOG INPUT FREQUENCY (MHz)"},
                   "y": {"field": "a2", "type": "quantitative", "scale": {"domain": [-90, 0], "nice": false}, "axis": {"values": [-90, -80, -70, -60, -50, -40, -30, -20, -10, 0], "tickCount": 12, "labelOverlap": false, "labelExpr": "datum.value == 0 ? '0' : '-' + abs(datum.value)"}, "title": "AMPLITUDE (dB)"},
                   "y2": {"datum": -90}}},
                {"data": {"name": "boxes"}, "transform": [{"filter": "datum.p == 'A2'"}], "mark": {"type": "rect", "color": "white"},
                 "encoding": {"x": {"field": "x", "type": "quantitative"}, "x2": {"field": "x2"}, "y": {"field": "y", "type": "quantitative"}, "y2": {"field": "y2"}}},
                {"data": {"name": "spikes"}, "transform": [{"filter": "datum.p == 'A2'"}], "mark": {"type": "rule", "color": "#3a3a3a", "strokeWidth": 1.5},
                 "encoding": {"x": {"field": "f", "type": "quantitative"}, "y": {"field": "v", "type": "quantitative"}, "y2": {"datum": -90}}},
                {"data": {"name": "texts"}, "transform": [{"filter": "datum.p == 'A2'"}], "mark": {"type": "text", "align": "left", "baseline": "alphabetic", "fontSize": 15},
                 "encoding": {"x": {"field": "x", "type": "quantitative"}, "y": {"field": "y", "type": "quantitative"}, "text": {"field": "t"}}},
                {"data": {"name": "subs"}, "transform": [{"filter": "datum.p == 'A2'"}], "mark": {"type": "text", "align": "left", "baseline": "alphabetic", "fontSize": 12, "dy": 3},
                 "encoding": {"x": {"field": "x", "type": "quantitative"}, "y": {"field": "y", "type": "quantitative"}, "text": {"field": "t"}}},
                {"data": {"name": "labels"}, "transform": [{"filter": "datum.p == 'A2'"}], "mark": {"type": "text", "align": "center", "baseline": "alphabetic", "fontSize": 15},
                 "encoding": {"x": {"field": "x", "type": "quantitative"}, "y": {"field": "y", "type": "quantitative"}, "text": {"field": "t"}}},
                {"data": {"name": "arrows"}, "transform": [{"filter": "datum.p == 'A2'"}], "mark": {"type": "rule", "color": "black", "strokeWidth": 1.5},
                 "encoding": {"x": {"field": "x", "type": "quantitative"}, "y": {"field": "y1", "type": "quantitative"}, "y2": {"field": "y2"}}},
                {"data": {"name": "arrows"}, "transform": [{"filter": "datum.p == 'A2'"}], "mark": {"type": "point", "shape": "M0,0L-0.36,-1L0.36,-1Z", "size": 900, "filled": true, "color": "black", "opacity": 1},
                 "encoding": {"x": {"field": "x", "type": "quantitative"}, "y": {"field": "y2", "type": "quantitative"}}},
                {"data": {"name": "marks"}, "mark": {"type": "point", "shape": "square", "size": 5, "filled": true, "color": "#e02020", "opacity": 1},
                 "encoding": {"x": {"datum": 0}, "y": {"field": "y", "type": "quantitative"}}},
                {"data": {"values": [{}]}, "mark": {"type": "text", "text": "MAX1193 toc03", "angle": 270, "align": "right", "baseline": "middle", "fontSize": 10, "dy": 9},
                 "encoding": {"x": {"datum": 25}, "y": {"datum": -1.7}}}
              ]
            }
          ],
          "spacing": 40
        }
      ],
      "spacing": 30
    },
    {
      "hconcat": [
        {
          "width": 44, "height": 325,
          "view": {"stroke": null},
          "data": {"values": [{}]},
          "mark": {"type": "rect", "color": "white"}
        },
        {
          "hconcat": [
            {
              "width": 326, "height": 325,
              "title": {"text": ["FFT PLOT CHANNEL B (DIFFERENTIAL", "INPUTS, 8192-POINT DATA RECORD)"]},
              "layer": [
                {"data": {"name": "noise"}, "mark": {"type": "rule", "color": "black", "strokeWidth": 1.4},
                 "encoding": {
                   "x": {"field": "f", "type": "quantitative", "scale": {"domain": [0, 25], "nice": false}, "axis": {"values": [0, 5, 10, 15, 20, 25]}, "title": "ANALOG INPUT FREQUENCY (MHz)"},
                   "y": {"field": "b2", "type": "quantitative", "scale": {"domain": [-90, 0], "nice": false}, "axis": {"values": [-90, -80, -70, -60, -50, -40, -30, -20, -10, 0], "tickCount": 12, "labelOverlap": false, "labelExpr": "datum.value == 0 ? '0' : '-' + abs(datum.value)"}, "title": "AMPLITUDE (dB)"},
                   "y2": {"datum": -90}}},
                {"data": {"name": "boxes"}, "transform": [{"filter": "datum.p == 'B2'"}], "mark": {"type": "rect", "color": "white"},
                 "encoding": {"x": {"field": "x", "type": "quantitative"}, "x2": {"field": "x2"}, "y": {"field": "y", "type": "quantitative"}, "y2": {"field": "y2"}}},
                {"data": {"name": "spikes"}, "transform": [{"filter": "datum.p == 'B2'"}], "mark": {"type": "rule", "color": "#3a3a3a", "strokeWidth": 1.5},
                 "encoding": {"x": {"field": "f", "type": "quantitative"}, "y": {"field": "v", "type": "quantitative"}, "y2": {"datum": -90}}},
                {"data": {"name": "texts"}, "transform": [{"filter": "datum.p == 'B2'"}], "mark": {"type": "text", "align": "left", "baseline": "alphabetic", "fontSize": 15},
                 "encoding": {"x": {"field": "x", "type": "quantitative"}, "y": {"field": "y", "type": "quantitative"}, "text": {"field": "t"}}},
                {"data": {"name": "subs"}, "transform": [{"filter": "datum.p == 'B2'"}], "mark": {"type": "text", "align": "left", "baseline": "alphabetic", "fontSize": 12, "dy": 3},
                 "encoding": {"x": {"field": "x", "type": "quantitative"}, "y": {"field": "y", "type": "quantitative"}, "text": {"field": "t"}}},
                {"data": {"name": "labels"}, "transform": [{"filter": "datum.p == 'B2'"}], "mark": {"type": "text", "align": "center", "baseline": "alphabetic", "fontSize": 15},
                 "encoding": {"x": {"field": "x", "type": "quantitative"}, "y": {"field": "y", "type": "quantitative"}, "text": {"field": "t"}}},
                {"data": {"name": "arrows"}, "transform": [{"filter": "datum.p == 'B2'"}], "mark": {"type": "rule", "color": "black", "strokeWidth": 1.5},
                 "encoding": {"x": {"field": "x", "type": "quantitative"}, "y": {"field": "y1", "type": "quantitative"}, "y2": {"field": "y2"}}},
                {"data": {"name": "arrows"}, "transform": [{"filter": "datum.p == 'B2'"}], "mark": {"type": "point", "shape": "M0,0L-0.36,-1L0.36,-1Z", "size": 900, "filled": true, "color": "black", "opacity": 1},
                 "encoding": {"x": {"field": "x", "type": "quantitative"}, "y": {"field": "y2", "type": "quantitative"}}},
                {"data": {"name": "marks"}, "mark": {"type": "point", "shape": "square", "size": 5, "filled": true, "color": "#e02020", "opacity": 1},
                 "encoding": {"x": {"datum": 0}, "y": {"field": "y", "type": "quantitative"}}},
                {"data": {"values": [{}]}, "mark": {"type": "text", "text": "MAX1193 toc04", "angle": 270, "align": "right", "baseline": "middle", "fontSize": 10, "dy": 9},
                 "encoding": {"x": {"datum": 25}, "y": {"datum": -1.7}}}
              ]
            },
            {
              "width": 326, "height": 325,
              "title": {"text": ["TWO-TONE IMD PLOT (DIFFERENTIAL", "INPUTS, 8192-POINT DATA RECORD)"]},
              "layer": [
                {"data": {"name": "noise"}, "mark": {"type": "rule", "color": "black", "strokeWidth": 1.4},
                 "encoding": {
                   "x": {"field": "f", "type": "quantitative", "scale": {"domain": [0, 25], "nice": false}, "axis": {"values": [0, 5, 10, 15, 20, 25]}, "title": "ANALOG INPUT FREQUENCY (MHz)"},
                   "y": {"field": "t", "type": "quantitative", "scale": {"domain": [-90, 0], "nice": false}, "axis": {"values": [-90, -80, -70, -60, -50, -40, -30, -20, -10, 0], "tickCount": 12, "labelOverlap": false, "labelExpr": "datum.value == 0 ? '0' : '-' + abs(datum.value)"}, "title": "AMPLITUDE (dB)"},
                   "y2": {"datum": -90}}},
                {"data": {"name": "boxes"}, "transform": [{"filter": "datum.p == 'T'"}], "mark": {"type": "rect", "color": "white"},
                 "encoding": {"x": {"field": "x", "type": "quantitative"}, "x2": {"field": "x2"}, "y": {"field": "y", "type": "quantitative"}, "y2": {"field": "y2"}}},
                {"data": {"name": "spikes"}, "transform": [{"filter": "datum.p == 'T'"}], "mark": {"type": "rule", "color": "#3a3a3a", "strokeWidth": 2},
                 "encoding": {"x": {"field": "f", "type": "quantitative"}, "y": {"field": "v", "type": "quantitative"}, "y2": {"datum": -90}}},
                {"data": {"name": "texts"}, "transform": [{"filter": "datum.p == 'T'"}], "mark": {"type": "text", "align": "left", "baseline": "alphabetic", "fontSize": 15},
                 "encoding": {"x": {"field": "x", "type": "quantitative"}, "y": {"field": "y", "type": "quantitative"}, "text": {"field": "t"}}},
                {"data": {"name": "subs"}, "transform": [{"filter": "datum.p == 'T'"}], "mark": {"type": "text", "align": "left", "baseline": "alphabetic", "fontSize": 12, "dy": 3},
                 "encoding": {"x": {"field": "x", "type": "quantitative"}, "y": {"field": "y", "type": "quantitative"}, "text": {"field": "t"}}},
                {"data": {"name": "darrows"}, "mark": {"type": "rule", "color": "black", "strokeWidth": 1.5},
                 "encoding": {"x": {"field": "x1", "type": "quantitative"}, "x2": {"field": "x2"}, "y": {"field": "y1", "type": "quantitative"}, "y2": {"field": "y2"}}},
                {"data": {"name": "darrows"}, "mark": {"type": "point", "shape": "M0,0L-0.36,1L0.36,1Z", "size": 900, "filled": true, "color": "black", "opacity": 1, "angle": 314},
                 "encoding": {"x": {"field": "x2", "type": "quantitative"}, "y": {"field": "y2", "type": "quantitative"}}},
                {"data": {"name": "marks"}, "mark": {"type": "point", "shape": "square", "size": 5, "filled": true, "color": "#e02020", "opacity": 1},
                 "encoding": {"x": {"datum": 0}, "y": {"field": "y", "type": "quantitative"}}},
                {"data": {"values": [{}]}, "mark": {"type": "text", "text": "MAX1193 toc05", "angle": 270, "align": "right", "baseline": "middle", "fontSize": 10, "dy": 9},
                 "encoding": {"x": {"datum": 25}, "y": {"datum": -1.7}}}
              ]
            }
          ],
          "spacing": 277
        }
      ],
      "spacing": 0
    }
  ],
  "spacing": 41,
  "config": {
    "font": "DejaVu Sans Condensed, DejaVu Sans, sans-serif",
    "view": {"stroke": "black", "strokeWidth": 3},
    "axis": {
      "grid": true, "gridColor": "#8c8c8c", "gridDash": [2, 2], "gridWidth": 1,
      "domain": false, "ticks": false, "tickSize": 0,
      "labelFont": "DejaVu Sans Condensed, DejaVu Sans, sans-serif", "labelFontSize": 15, "labelColor": "black",
      "labelFlush": false, "labelOverlap": false,
      "titleFont": "DejaVu Sans Condensed, DejaVu Sans, sans-serif", "titleFontSize": 15, "titleFontWeight": "normal", "titleColor": "black"
    },
    "axisX": {"labelPadding": 14, "titlePadding": 12},
    "axisY": {"labelPadding": 17, "titlePadding": 14},
    "title": {"font": "DejaVu Sans Condensed, DejaVu Sans, sans-serif", "fontSize": 17, "fontWeight": "bold", "lineHeight": 28, "offset": 7, "frame": "group", "anchor": "middle", "color": "black"},
    "text": {"font": "DejaVu Sans Condensed, DejaVu Sans, sans-serif", "color": "black"}
  }
}
